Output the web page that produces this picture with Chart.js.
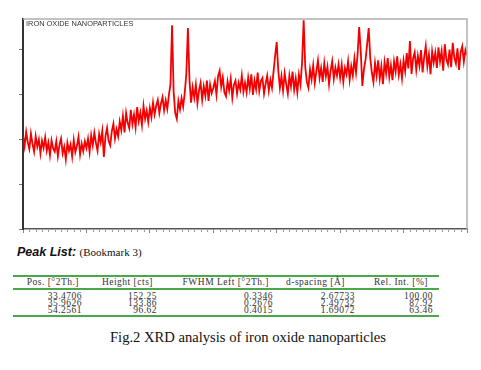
<!DOCTYPE html>
<html>
<head>
<meta charset="utf-8">
<script src="https://cdn.jsdelivr.net/npm/chart.js@4"></script>
<style>
  body { margin: 0; background: #fff; width: 481px; height: 370px; position: relative; overflow: hidden; }
  #wrap { position: absolute; left: 0; top: 0; width: 481px; height: 245px; }
  #peakTitle { position: absolute; left: 17px; top: 245px; font-family: "Liberation Sans", Arial, sans-serif; font-weight: bold; font-style: italic; font-size: 12.5px; color: #111; white-space: nowrap; }
  #peakTitle span { font-family: "Liberation Serif", serif; font-weight: normal; font-style: normal; font-size: 11px; }
  #peaks { position: absolute; left: 13px; top: 275px; width: 426px; border-collapse: collapse; table-layout: fixed; font-family: "Liberation Serif", "Times New Roman", serif; font-size: 9.5px; letter-spacing: 0.5px; color: #333; }
  #peaks th { font-weight: normal; text-align: right; line-height: 11px; height: 11px; padding: 0; border-top: 2px solid #4aa84a; border-bottom: 2px solid #4aa84a; }
  #peaks td { text-align: right; line-height: 7px; height: 7px; padding: 0; }
  #peaks tr.first td { padding-top: 2.5px; }
  #peaks tr.last td { border-bottom: 2px solid #4aa84a; padding-bottom: 1px; }
  #caption { position: absolute; left: 0; width: 496px; top: 329px; text-align: center; font-family: "Liberation Serif", "Times New Roman", serif; font-size: 14.6px; color: #111; }
</style>
</head>
<body>
<div id="wrap"><canvas id="chart" width="481" height="245"></canvas></div>
<div id="peakTitle">Peak List: <span>(Bookmark 3)</span></div>
<table id="peaks"></table>
<div id="caption">Fig.2 XRD analysis of iron oxide nanoparticles</div>
<script>
// scan grid (2theta, degrees)
const scanStart = 10;
const scanStep = 0.25;

// counts, 5 degrees per row
const counts = [
  208, 184, 216, 193, 178, 212, 189, 172, 206, 183, 199, 168, 196, 180, 204, 174, 192, 164, 197, 179,
  172, 195, 162, 187, 201, 168, 183, 155, 192, 174, 188, 161, 198, 171, 185, 205, 166, 190, 173, 195,
  180, 201, 171, 208, 186, 214, 191, 174, 211, 193, 218, 160, 206, 225, 196, 186, 217, 234, 201, 222,
  206, 239, 220, 251, 215, 258, 236, 224, 265, 233, 254, 226, 271, 240, 259, 231, 274, 245, 263, 238,
  269, 249, 281, 255, 274, 287, 258, 279, 293, 264, 286, 267, 298, 322, 453, 305, 258, 245, 285, 266,
  291, 272, 303, 345, 447, 330, 281, 315, 292, 321, 280, 308, 325, 287, 317, 296, 330, 285, 321, 302,
  314, 329, 299, 340, 352, 316, 337, 304, 295, 328, 308, 334, 292, 321, 330, 301, 325, 310, 341, 305,
  325, 304, 337, 312, 344, 298, 330, 311, 348, 307, 329, 336, 301, 323, 341, 308, 332, 314, 350, 385,
  416, 352, 314, 340, 308, 346, 322, 301, 341, 317, 350, 310, 335, 304, 343, 321, 372, 464, 360, 327,
  314, 355, 333, 364, 325, 351, 375, 336, 358, 327, 369, 340, 361, 322, 352, 373, 334, 359, 341, 366,
  336, 365, 327, 358, 344, 373, 332, 362, 341, 379, 348, 388, 449, 395, 318, 355, 376, 410, 447, 380,
  348, 327, 369, 341, 375, 334, 362, 322, 371, 346, 380, 338, 364, 331, 373, 350, 384, 343, 366, 335,
  375, 351, 391, 357, 418, 345, 379, 393, 354, 385, 363, 398, 348, 382, 407, 362, 388, 344, 395, 370,
  392, 358, 404, 373, 396, 352, 411, 377, 366, 399, 360, 414, 381, 368, 402, 354, 393, 406, 372, 398,
  386
];

// peak list table
const headers = ['Pos. [°2Th.]', 'Height [cts]', 'FWHM Left [°2Th.]', 'd-spacing [Å]', 'Rel. Int. [%]'];
const peakPos = ['33.4706', '35.9626', '54.2561'];
const peakHeight = ['152.25', '133.86', '96.62'];
const peakFwhm = ['0.3346', '0.2676', '0.4015'];
const peakD = ['2.67733', '2.49732', '1.69072'];
const peakRel = ['100.00', '87.92', '63.46'];

let table = document.getElementById('peaks');
let colW = [69, 75, 116, 82, 84];
let headPad = [3, 4, 4, 10, 11];
let bodyPad = [0, 0, 0, 0, 6];
let html = '<colgroup>' + colW.map(w => '<col style="width:' + w + 'px">').join('') + '</colgroup>';
html += '<tr>' + headers.map((h, i) => '<th style="padding-right:' + headPad[i] + 'px">' + h + '</th>').join('') + '</tr>';
for (let r = 0; r < peakPos.length; r++) {
  let cells = [peakPos[r], peakHeight[r], peakFwhm[r], peakD[r], peakRel[r]];
  let cls = r == 0 ? ' class="first"' : (r == peakPos.length - 1 ? ' class="last"' : '');
  html += '<tr' + cls + '>' +
    cells.map((c, i) => '<td style="padding-right:' + bodyPad[i] + 'px">' + c + '</td>').join('') + '</tr>';
}
table.innerHTML = html;

const points = counts.map((c, i) => ({x: scanStart + i * scanStep, y: c}));

// frame, minor ticks and the inner title
const framePlugin = {
  id: 'frame',
  afterDraw(chart) {
    let ctx = chart.ctx;
    let a = chart.chartArea;
    let xs = chart.scales.x;
    ctx.save();
    ctx.strokeStyle = '#b0b0b0';
    ctx.lineWidth = 1.5;
    ctx.beginPath();
    ctx.moveTo(a.left, a.top);
    ctx.lineTo(a.right, a.top);
    ctx.lineTo(a.right, a.bottom);
    ctx.stroke();

    ctx.strokeStyle = '#999';
    ctx.lineWidth = 1;
    for (let v = xs.min + 1; v < xs.max; v++) {
      if (v % 10 == 0) continue;
      let px = Math.round(xs.getPixelForValue(v)) + 0.5;
      ctx.beginPath();
      ctx.moveTo(px, a.bottom + 1);
      ctx.lineTo(px, a.bottom + 3);
      ctx.stroke();
    }

    ctx.fillStyle = '#333';
    ctx.font = '7.4px "Liberation Sans", Arial, sans-serif';
    ctx.textBaseline = 'top';
    ctx.fillText('IRON OXIDE NANOPARTICLES', a.left + 3, a.top + 1);
    ctx.restore();
  }
};

var chart = new Chart(document.getElementById('chart'), {
  type: 'line',
  data: {
    datasets: [{
      data: points,
      borderColor: 'rgb(245, 0, 0)',
      borderWidth: 1.8,
      pointRadius: 0,
      tension: 0
    }]
  },
  options: {
    responsive: false,
    animation: false,
    layout: { padding: { left: 19, top: 19, right: 14, bottom: 10 } },
    plugins: { legend: { display: false }, tooltip: { enabled: false } },
    scales: {
      x: {
        type: 'linear',
        min: 10,
        max: 80,
        ticks: { display: false, stepSize: 10 },
        grid: { drawOnChartArea: false, tickLength: 4, color: '#888' },
        border: { color: '#555', width: 1.5 },
        afterFit: s => { s.height = 6; }
      },
      y: {
        min: 0,
        max: 467,
        ticks: { display: false, stepSize: 100, includeBounds: false },
        grid: { drawOnChartArea: false, tickLength: 4, color: '#777' },
        border: { color: '#333', width: 2 },
        afterFit: s => { s.width = 4; }
      }
    }
  },
  plugins: [framePlugin]
});
</script>
</body>
</html>
